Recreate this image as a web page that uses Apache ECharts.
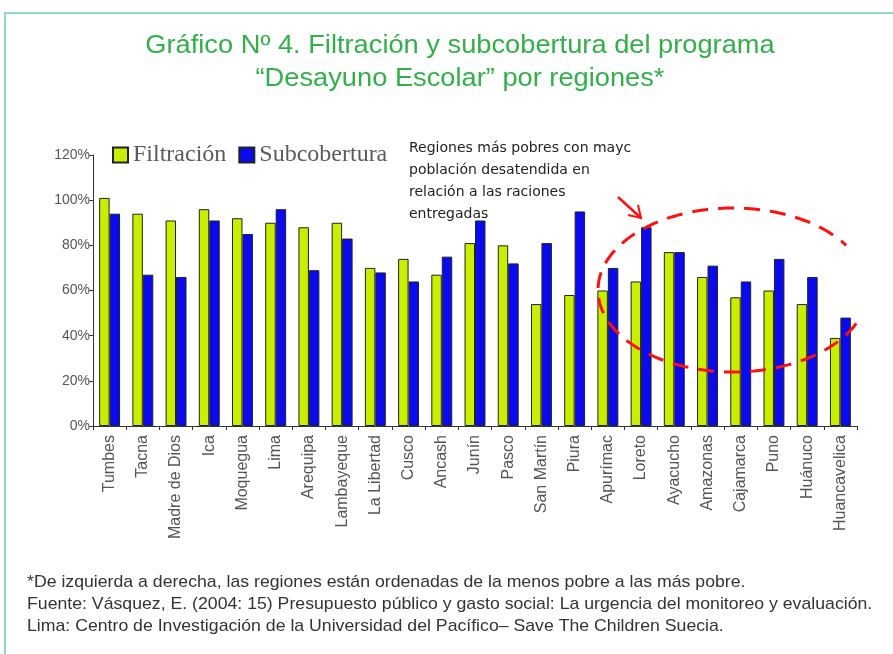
<!DOCTYPE html>
<html lang="es">
<head>
    <meta charset="UTF-8">
    <title>Filtración y subcobertura</title>
    <script src="https://cdn.jsdelivr.net/npm/echarts@6.0.0/dist/echarts.min.js"></script>
    <style>
        html, body { margin: 0; padding: 0; background: #fff; }
        #main { width: 893px; height: 654px; }
    </style>
</head>
<body>
<div id="main"></div>
<script>
    var regiones = ['Tumbes', 'Tacna', 'Madre de Dios', 'Ica', 'Moquegua', 'Lima', 'Arequipa',
        'Lambayeque', 'La Libertad', 'Cusco', 'Ancash', 'Junín', 'Pasco', 'San Martín', 'Piura',
        'Apurímac', 'Loreto', 'Ayacucho', 'Amazonas', 'Cajamarca', 'Puno', 'Huánuco', 'Huancavelica'];
    var filtracion   = [101, 94, 91, 96, 92, 90, 88, 90, 70, 74, 67, 81, 80, 54, 58, 60, 64, 77, 66, 57, 60, 54, 39];
    var subcobertura = [94, 67, 66, 91, 85, 96, 69, 83, 68, 64, 75, 91, 72, 81, 95, 70, 88, 77, 71, 64, 74, 66, 48];

    var titulo = ['Gráfico Nº 4. Filtración y subcobertura del programa', '“Desayuno Escolar” por regiones*'];
    var nota = ['Regiones más pobres con mayc', 'población desatendida en', 'relación a las raciones', 'entregadas'];
    var pie = [
        '*De izquierda a derecha, las regiones están ordenadas de la menos pobre a las más pobre.',
        'Fuente: Vásquez, E. (2004: 15) Presupuesto público y gasto social: La urgencia del monitoreo y evaluación.',
        'Lima: Centro de Investigación de la Universidad del Pacífico– Save The Children Suecia.'
    ];

    // elipse roja a mano alzada (decoración)
    var elipse = [];
    for (var a = 24; a <= 329; a += 3) {
        var t = a * Math.PI / 180;
        elipse.push([733 + 135 * Math.cos(t), 290 + 82 * Math.sin(t)]);
    }

    var chart = echarts.init(document.getElementById('main'));
    var option = {
        backgroundColor: '#fff',
        animation: false,
        legend: {
            left: 107, top: 138,
            icon: 'rect', itemWidth: 15, itemHeight: 15, itemGap: 12,
            textStyle: { fontFamily: 'Liberation Serif', fontSize: 24, color: '#5a5a5a' },
            data: ['Filtración', 'Subcobertura']
        },
        grid: { left: 93, right: 36, top: 155, bottom: 228 },
        xAxis: {
            type: 'category', data: regiones,
            axisLine: { lineStyle: { color: '#333' } },
            axisTick: { show: true, length: 4, lineStyle: { color: '#333' } },
            axisLabel: { interval: 0, rotate: 90, fontSize: 16, color: '#555', fontFamily: 'Liberation Sans', margin: 9 }
        },
        yAxis: {
            type: 'value', min: 0, max: 120, interval: 20,
            axisLine: { show: true, lineStyle: { color: '#333' } },
            axisTick: { show: true, inside: false, length: 4, lineStyle: { color: '#333' } },
            splitLine: { show: false },
            axisLabel: { formatter: '{value}%', fontSize: 14, color: '#555', fontFamily: 'Liberation Sans', margin: 3 }
        },
        series: [
            {
                name: 'Filtración', type: 'bar', data: filtracion,
                barGap: '0%', barCategoryGap: '37%',
                itemStyle: { color: '#c8ee00', borderColor: '#222', borderWidth: 1 }
            },
            {
                name: 'Subcobertura', type: 'bar', data: subcobertura,
                itemStyle: { color: '#0a0aee', borderColor: '#222', borderWidth: 1 }
            }
        ],
        graphic: [
            { type: 'rect', shape: { x: 5, y: 13, width: 900, height: 660 }, style: { fill: 'none', stroke: '#93d8bd', lineWidth: 2 }, silent: true },
            {
                type: 'text', x: 460, y: 30, scaleX: 1.09,
                style: { text: titulo.join('\n'), font: '25px "Liberation Sans"', fill: '#33b04a', lineHeight: 33, align: 'center' }
            },
            {
                type: 'text', x: 409, y: 137,
                style: { text: nota.join('\n'), font: '14px "DejaVu Sans"', fill: '#222', lineHeight: 22 }
            },
            {
                type: 'polyline', shape: { points: elipse },
                style: { stroke: '#ff1010', lineWidth: 3, fill: 'none', lineDash: [16, 10] }, z: 10
            },
            { type: 'line', shape: { x1: 618, y1: 197, x2: 641, y2: 218 }, style: { stroke: '#ff1010', lineWidth: 2.5 }, z: 10 },
            { type: 'polyline', shape: { points: [[628, 215], [641, 218], [638, 205]] }, style: { stroke: '#ff1010', lineWidth: 2, fill: 'none' }, z: 10 },
            {
                type: 'text', x: 27, y: 571, scaleX: 1.04,
                style: { text: pie.join('\n'), font: '17px "Liberation Sans"', fill: '#333', lineHeight: 22 }
            }
        ]
    };
    chart.setOption(option);
</script>
</body>
</html>
